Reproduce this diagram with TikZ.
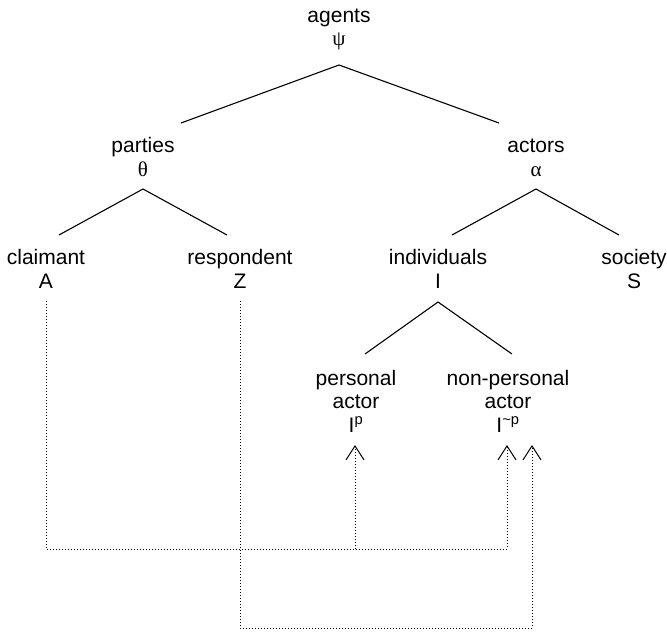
\documentclass[tikz,border=0pt]{standalone}
\usepackage{fontspec}
\setmainfont{Liberation Sans}
\newfontfamily\greekfont{Liberation Serif}
\usetikzlibrary{positioning, calc, arrows.meta}

\begin{document}
\begin{tikzpicture}[
  x=1pt, y=-1pt,
  term/.style={align=center, inner sep=0pt, anchor=base, font=\fontsize{21}{23.5}\selectfont},
  branch/.style={line width=1.1pt},
  link/.style={line width=1pt, dash pattern=on 1pt off 2pt},
  tip/.style={-{Straight Barb[length=14pt, width=18pt, line width=1pt]}}
]
\useasboundingbox (0,0) rectangle (667,634);

% nodes sit on the baseline of their last line
\node[term] (agents) at (339,46) {agents\\{\greekfont ψ}};
\node[term] (parties) at (143,176) {parties\\{\greekfont θ}};
\node[term] (actors) at (536,176) {actors\\{\greekfont α}};
\node[term] (claimant) at (46,288) {claimant\\A};
\node[term] (respondent) at (240,288) {respondent\\Z};
\node[term] (individuals) at (438,288) {individuals\\I};
\node[term] (society) at (634,288) {society\\S};
\node[term] (personal) at (356,432) {personal\\actor\\I\textsuperscript{p}};
\node[term] (nonpersonal) at (508,432) {non-personal\\actor\\I\textsuperscript{\textasciitilde p}};

% tree
\draw[branch] ($(parties.base)+(38,-53)$) -- ($(agents.base)+(0,19)$) -- ($(actors.base)+(-37,-53)$);
\draw[branch] ($(claimant.base)+(13,-53)$) -- ($(parties.base)+(0,13)$) -- ($(respondent.base)+(-13,-53)$);
\draw[branch] ($(individuals.base)+(14,-53)$) -- ($(actors.base)+(0,13)$) -- ($(society.base)+(-15,-53)$);
\draw[branch] ($(personal.base)+(9,-78)$) -- ($(individuals.base)+(0,14)$) -- ($(nonpersonal.base)+(4,-78)$);

% links
\draw[link, tip] ($(claimant.base)+(0,13)$) |- ($(nonpersonal.base)+(-1,117)$) -- ($(nonpersonal.base)+(-1,13)$);
\draw[link, tip] ($(personal.base)+(-1,117)$) -- ($(personal.base)+(-1,13)$);
\draw[link, tip] ($(respondent.base)+(0,13)$) |- ($(nonpersonal.base)+(24,196)$) -- ($(nonpersonal.base)+(24,13)$);
\end{tikzpicture}
\end{document}
